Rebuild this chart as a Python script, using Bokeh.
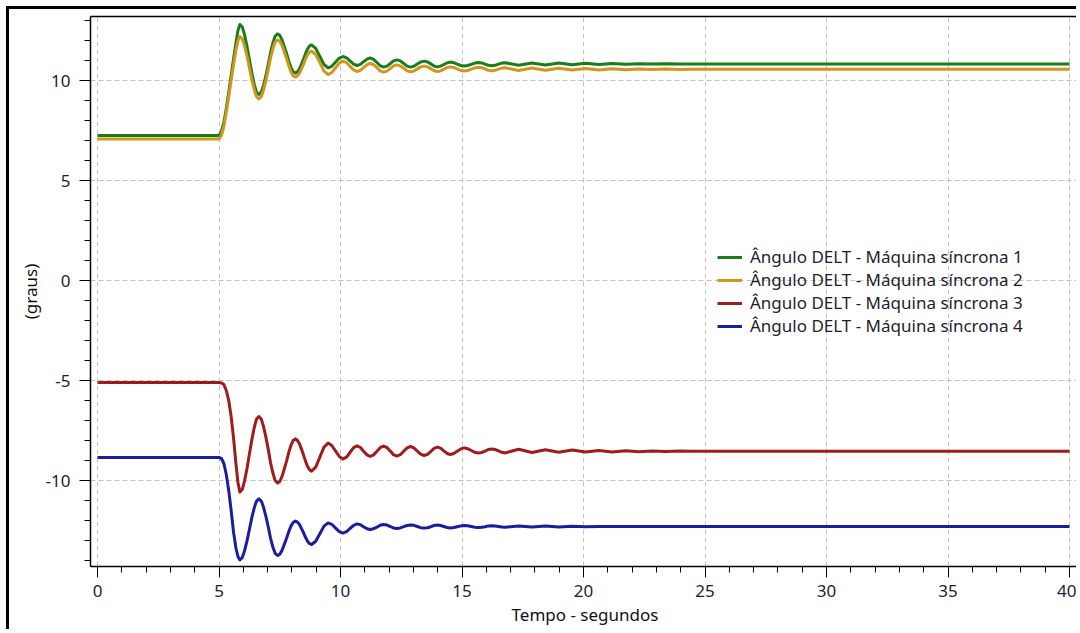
from bokeh.plotting import figure
from bokeh.models import (SingleIntervalTicker, FixedTicker, LinearAxis, Legend, LegendItem,
                          Range1d, NumeralTickFormatter)
from bokeh.embed import file_html
from bokeh.resources import INLINE

# ---- data ----
t = [0,
     5.0, 5.1, 5.2, 5.3, 5.4, 5.5, 5.6, 5.7, 5.78,
     5.86, 5.96, 6.05, 6.15, 6.25, 6.35, 6.45, 6.54,
     6.64, 6.74, 6.83, 6.93, 7.03, 7.12, 7.22, 7.31,
     7.41, 7.5, 7.59, 7.68, 7.78, 7.87, 7.96, 8.05,
     8.14, 8.22, 8.31, 8.39, 8.48, 8.56, 8.64, 8.73,
     8.81, 8.98, 9.15, 9.32,
     9.49, 9.64, 9.8, 9.95,
     10.1, 10.25, 10.39, 10.54,
     10.68, 10.82, 10.95, 11.09,
     11.22, 11.36, 11.5, 11.63,
     11.77, 11.91, 12.05, 12.18,
     12.32, 12.46, 12.6, 12.74,
     12.88, 13.02, 13.16, 13.3,
     13.44, 13.58, 13.72, 13.85,
     13.99, 14.12, 14.25, 14.39,
     14.52, 14.66, 14.8, 14.95,
     15.09, 15.23, 15.38, 15.53,
     15.67, 15.81, 15.95, 16.08,
     16.22, 16.36, 16.5, 16.64,
     16.78, 17.33, 17.88, 18.43, 18.98, 19.53, 20.08, 20.63,
     21.18, 21.73, 22.28, 22.83, 23.38, 23.93, 24.48, 25.03, 40]

maq1 = [7.25,
        7.25, 7.45, 7.9, 8.6, 9.4, 10.25, 11.1, 11.9, 12.5,
        12.8, 12.67, 12.29, 11.72, 11.05, 10.38, 9.81, 9.43,
        9.3, 9.42, 9.74, 10.24, 10.82, 11.39, 11.89, 12.22,
        12.33, 12.26, 12.04, 11.72, 11.35, 10.98, 10.66, 10.44,
        10.37, 10.42, 10.58, 10.81, 11.08, 11.34, 11.57, 11.73,
        11.78, 11.61, 11.2, 10.8,
        10.63, 10.71, 10.92, 11.12,
        11.2, 11.13, 10.98, 10.82,
        10.75, 10.81, 10.94, 11.07,
        11.13, 11.06, 10.9, 10.74,
        10.67, 10.72, 10.85, 10.98,
        11.03, 10.98, 10.85, 10.72,
        10.67, 10.71, 10.82, 10.93,
        10.97, 10.93, 10.83, 10.72,
        10.68, 10.72, 10.8, 10.88,
        10.92, 10.89, 10.82, 10.75,
        10.72, 10.75, 10.81, 10.87,
        10.9, 10.88, 10.82, 10.76,
        10.74, 10.76, 10.82, 10.87,
        10.89, 10.76, 10.88, 10.78, 10.87, 10.79, 10.86, 10.8,
        10.85, 10.81, 10.84, 10.82, 10.84, 10.82, 10.83, 10.83, 10.83]

maq2 = [7.08,
        7.08, 7.25, 7.7, 8.4, 9.2, 10.0, 10.8, 11.55, 12.0,
        12.2, 12.08, 11.74, 11.24, 10.64, 10.04, 9.54, 9.2,
        9.08, 9.19, 9.51, 9.99, 10.56, 11.12, 11.6, 11.92,
        12.03, 11.96, 11.76, 11.46, 11.1, 10.75, 10.44, 10.24,
        10.17, 10.22, 10.36, 10.57, 10.82, 11.07, 11.28, 11.42,
        11.47, 11.3, 10.89, 10.47,
        10.3, 10.4, 10.64, 10.87,
        10.97, 10.89, 10.71, 10.53,
        10.45, 10.51, 10.65, 10.79,
        10.85, 10.79, 10.64, 10.48,
        10.42, 10.47, 10.6, 10.73,
        10.78, 10.73, 10.61, 10.48,
        10.43, 10.47, 10.58, 10.68,
        10.72, 10.68, 10.59, 10.49,
        10.45, 10.48, 10.57, 10.65,
        10.68, 10.65, 10.58, 10.5,
        10.47, 10.5, 10.57, 10.63,
        10.66, 10.64, 10.58, 10.51,
        10.49, 10.51, 10.57, 10.62,
        10.64, 10.5, 10.62, 10.51, 10.61, 10.52, 10.6, 10.53,
        10.59, 10.54, 10.58, 10.55, 10.57, 10.55, 10.56, 10.56, 10.56]

maq3 = [-5.1,
        -5.1, -5.12, -5.2, -5.5, -6.0, -6.8, -7.9, -9.2, -10.1,
        -10.58, -10.44, -10.03, -9.41, -8.69, -7.97, -7.35, -6.94,
        -6.8, -6.93, -7.29, -7.83, -8.47, -9.1, -9.64, -10.0,
        -10.13, -10.05, -9.81, -9.45, -9.03, -8.6, -8.24, -8.0,
        -7.92, -7.98, -8.16, -8.42, -8.73, -9.03, -9.29, -9.47,
        -9.53, -9.33, -8.83, -8.33,
        -8.13, -8.25, -8.53, -8.8,
        -8.92, -8.83, -8.6, -8.36,
        -8.27, -8.35, -8.54, -8.72,
        -8.8, -8.72, -8.54, -8.36,
        -8.28, -8.35, -8.53, -8.71,
        -8.78, -8.71, -8.54, -8.37,
        -8.3, -8.37, -8.53, -8.68,
        -8.75, -8.69, -8.54, -8.39,
        -8.33, -8.38, -8.52, -8.65,
        -8.7, -8.65, -8.54, -8.42,
        -8.37, -8.41, -8.5, -8.59,
        -8.63, -8.6, -8.53, -8.45,
        -8.42, -8.45, -8.52, -8.59,
        -8.62, -8.44, -8.6, -8.46, -8.59, -8.48, -8.58, -8.5,
        -8.57, -8.51, -8.56, -8.52, -8.55, -8.53, -8.54, -8.54, -8.54]

maq4 = [-8.85,
        -8.85, -8.9, -9.15, -9.7, -10.5, -11.5, -12.6, -13.4, -13.8,
        -13.97, -13.85, -13.52, -13.03, -12.45, -11.86, -11.37, -11.04,
        -10.92, -11.03, -11.33, -11.79, -12.34, -12.88, -13.34, -13.64,
        -13.75, -13.69, -13.5, -13.22, -12.89, -12.56, -12.28, -12.1,
        -12.03, -12.07, -12.2, -12.39, -12.62, -12.84, -13.03, -13.16,
        -13.2, -13.04, -12.66, -12.28,
        -12.12, -12.19, -12.38, -12.56,
        -12.63, -12.56, -12.4, -12.24,
        -12.17, -12.21, -12.31, -12.41,
        -12.45, -12.41, -12.33, -12.24,
        -12.2, -12.23, -12.3, -12.37,
        -12.4, -12.37, -12.31, -12.25,
        -12.22, -12.24, -12.3, -12.36,
        -12.38, -12.36, -12.31, -12.25,
        -12.23, -12.25, -12.3, -12.35,
        -12.37, -12.35, -12.31, -12.27,
        -12.25, -12.26, -12.3, -12.34,
        -12.35, -12.34, -12.31, -12.27,
        -12.26, -12.27, -12.3, -12.33,
        -12.34, -12.27, -12.33, -12.28, -12.32, -12.29, -12.31, -12.3,
        -12.3, -12.3, -12.3, -12.3, -12.3, -12.3, -12.3, -12.3, -12.3]

labels = ["Ângulo DELT - Máquina síncrona 1",
          "Ângulo DELT - Máquina síncrona 2",
          "Ângulo DELT - Máquina síncrona 3",
          "Ângulo DELT - Máquina síncrona 4"]
colors = ["#1a7d1a", "#d1961c", "#a01c1c", "#1c1ca0"]
series = [maq1, maq2, maq3, maq4]

FONT = "Noto Sans"
FS = "17px"

p = figure(width=1070, height=623, output_backend="svg", toolbar_location=None,
           x_range=Range1d(-0.288, 40.41), y_range=Range1d(-14.3, 13.2),
           min_border_left=81, min_border_right=0, min_border_top=7, min_border_bottom=66,
           x_axis_label="Tempo - segundos", y_axis_label="(graus)")
p.styles = {"margin-left": "6px", "margin-top": "6px",
            "border-left": "3px solid black", "border-top": "3px solid black"}
p.outline_line_color = None
p.background_fill_color = "white"
p.border_fill_color = "white"

for ax in (p.xaxis[0], p.yaxis[0]):
    ax.ticker = SingleIntervalTicker(interval=5, num_minor_ticks=5)
    ax.formatter = NumeralTickFormatter(format="0")
    ax.axis_line_color = "black"
    ax.axis_line_width = 1.5
    ax.major_tick_line_color = "black"
    ax.minor_tick_line_color = "black"
    ax.major_tick_out = 11
    ax.major_tick_in = 0
    ax.minor_tick_out = 6
    ax.minor_tick_in = 0
    ax.major_label_text_font = FONT
    ax.major_label_text_font_size = FS
    ax.major_label_text_color = "#1e1e2e"
    ax.axis_label_text_font = FONT
    ax.axis_label_text_font_size = FS
    ax.axis_label_text_font_style = "normal"
    ax.axis_label_text_color = "#111111"

p.xaxis[0].major_label_standoff = 7
p.xaxis[0].axis_label_standoff = 3
p.yaxis[0].major_label_standoff = 9
p.yaxis[0].axis_label_standoff = 1

top = LinearAxis(ticker=FixedTicker(ticks=[]), axis_line_color="black", axis_line_width=1.5,
                 major_tick_line_color=None, minor_tick_line_color=None,
                 major_tick_out=0, minor_tick_out=0, major_tick_in=0, minor_tick_in=0,
                 major_label_standoff=0)
p.add_layout(top, "above")

for g in (p.xgrid[0], p.ygrid[0]):
    g.grid_line_color = "#c4c4c4"
    g.grid_line_dash = "5 3"
    g.grid_line_width = 1
p.xgrid[0].ticker = SingleIntervalTicker(interval=5)
p.ygrid[0].ticker = SingleIntervalTicker(interval=5)

items = []
for s, c, lab in zip(series, colors, labels):
    r = p.line(t, s, line_color=c, line_width=3, line_join="round")
    items.append(LegendItem(label=lab, renderers=[r]))

legend = Legend(items=items, location=(627, 229), padding=0, margin=0, spacing=0,
                glyph_width=25, glyph_height=20, label_height=20, label_standoff=8,
                label_text_font=FONT, label_text_font_size=FS, label_text_color="#1e1e2e",
                background_fill_alpha=0, border_line_color=None)
p.add_layout(legend, "center")

open("out.html", "w").write(file_html(p, INLINE))
